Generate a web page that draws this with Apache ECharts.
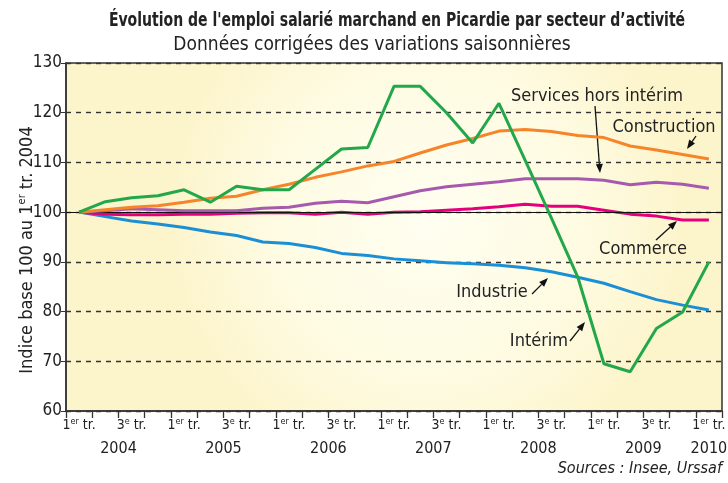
<!DOCTYPE html>
<html>
<head>
<meta charset="utf-8">
<script src="https://cdn.jsdelivr.net/npm/echarts@6/dist/echarts.min.js"></script>
<style>
  html, body { margin: 0; padding: 0; background: #fff; }
  #chart { width: 728px; height: 483px; }
</style>
</head>
<body>
<div id="chart"></div>
<script>
// trimestres 2004 T1 -> 2010 T1
var quarters = [];
for (var y = 2004; y <= 2010; y++) {
  for (var q = 1; q <= 4; q++) {
    if (y === 2010 && q > 1) break;
    quarters.push(y + '-T' + q);
  }
}
var years = ['2004', '2005', '2006', '2007', '2008', '2009', '2010'];
var yearPos = [2, 6, 10, 14, 18, 22, 24.5];   // position du libellé d'année sur l'axe (en trimestres)

var interim = [100, 102.1, 102.9, 103.3, 104.5, 102.0, 105.2, 104.5, 104.5, 108.6, 112.7, 113.0,
  125.3, 125.3, 120.0, 113.9, 121.9, 110.4, 98.8, 87.0, 69.5, 67.9, 76.6, 79.9, 90.0];
var construction = [100, 100.5, 101.0, 101.3, 102.0, 102.8, 103.2, 104.5, 105.6, 107.0, 108.1, 109.3,
  110.2, 111.9, 113.5, 114.8, 116.3, 116.6, 116.2, 115.4, 115.0, 113.3, 112.5, 111.6, 110.7];
var services = [100, 100.3, 100.7, 100.5, 100.3, 100.3, 100.3, 100.8, 101.0, 101.8, 102.2, 101.9,
  103.1, 104.3, 105.1, 105.6, 106.1, 106.7, 106.7, 106.7, 106.4, 105.5, 106.0, 105.6, 104.8];
var commerce = [100, 99.6, 99.5, 99.5, 99.6, 99.6, 99.8, 99.9, 99.9, 99.6, 100.0, 99.6,
  100.0, 100.1, 100.4, 100.7, 101.1, 101.6, 101.2, 101.2, 100.4, 99.6, 99.2, 98.4, 98.4];
var industrie = [100, 99.1, 98.2, 97.6, 96.9, 96.0, 95.3, 94.0, 93.7, 92.9, 91.7, 91.3,
  90.6, 90.2, 89.8, 89.6, 89.3, 88.8, 88.0, 86.9, 85.7, 84.0, 82.4, 81.3, 80.3];

var FONT = '"DejaVu Sans Condensed", "Liberation Sans", sans-serif';

var myChart = echarts.init(document.getElementById('chart'));

function arrow(x1, y1, x2, y2) {
  var a = Math.atan2(y2 - y1, x2 - x1);
  var L = 9, W = 3.5;
  var bx = x2 - L * Math.cos(a), by = y2 - L * Math.sin(a);
  return {
    type: 'group', z: 50,
    children: [
      { type: 'line', shape: { x1: x1, y1: y1, x2: bx, y2: by }, style: { stroke: '#111', lineWidth: 1.3 } },
      { type: 'polygon', shape: { points: [[x2, y2],
          [bx + W * Math.sin(a), by - W * Math.cos(a)],
          [bx - W * Math.sin(a), by + W * Math.cos(a)]] }, style: { fill: '#111' } }
    ]
  };
}
function label(txt, x, y) {
  return { type: 'text', x: x, y: y, z: 50,
    style: { text: txt, font: '18px ' + FONT, fill: '#222', align: 'center', verticalAlign: 'middle' } };
}

function lineSeries(name, data, color, z) {
  return {
    name: name, type: 'line', data: data, z: z,
    symbol: 'none', smooth: false,
    lineStyle: { color: color, width: 3 },
    itemStyle: { color: color }
  };
}

var supStyle = { fontSize: 9, fontFamily: FONT, padding: [0, 0, 8, 0], color: '#222' };

var option = {
  backgroundColor: '#fff',
  animation: false,
  grid: {
    left: 66, right: 6, top: 63, bottom: 72,
    containLabel: false,
    outerBoundsMode: 'none',
    show: true,
    borderColor: '#333', borderWidth: 1.5,
    backgroundColor: new echarts.graphic.RadialGradient(0.55, 0.45, 0.75, [
      { offset: 0, color: '#fffef0' },
      { offset: 0.6, color: '#fefbe2' },
      { offset: 1, color: '#fcf4ca' }
    ])
  },
  xAxis: [
    {
      type: 'category',
      data: quarters,
      boundaryGap: true,
      axisLine: { lineStyle: { color: '#333', width: 1.5 } },
      axisTick: { show: true, length: 7, interval: 0, lineStyle: { color: '#333', width: 1.3 } },
      axisLabel: {
        interval: 0, margin: 6,
        fontFamily: FONT, fontSize: 14, color: '#222',
        formatter: function (v, i) {
          if (i % 4 === 0) return '1{s|er} tr.';
          if (i % 4 === 2) return '3{s|e} tr.';
          return '';
        },
        rich: { s: supStyle }
      }
    },
    {
      type: 'value',
      min: 0, max: 25, interval: 0.5,
      position: 'bottom',
      axisLine: { show: false }, axisTick: { show: false }, splitLine: { show: false },
      axisLabel: {
        margin: 30, fontFamily: FONT, fontSize: 16, color: '#222',
        formatter: function (v) {
          var k = yearPos.indexOf(v);
          return k >= 0 ? years[k] : '';
        }
      }
    }
  ],
  yAxis: {
    type: 'value',
    min: 60, max: 130, interval: 10,
    name: 'Indice base 100 au 1{s|er} tr. 2004',
    nameLocation: 'middle',
    nameGap: 29,
    nameMoveOverlap: false,
    nameTextStyle: { fontFamily: FONT, fontSize: 18, color: '#222', padding: [0, 26, 0, 0],
      rich: { s: { fontSize: 11, fontFamily: FONT, padding: [0, 0, 9, 0], color: '#222' } } },
    axisLine: { show: true, lineStyle: { color: '#333', width: 1.5 } },
    axisTick: { show: true, length: 5, lineStyle: { color: '#333' } },
    axisLabel: { margin: 4, fontFamily: FONT, fontSize: 17, color: '#222' },
    splitLine: { show: true, lineStyle: { color: '#333', type: [5, 5], width: 1.4 } }
  },
  series: [
    {
      name: 'base', type: 'line', data: [], z: 1,
      markLine: {
        silent: true, symbol: 'none',
        label: { show: false },
        lineStyle: { color: '#111', type: 'solid', width: 1.2 },
        data: [{ yAxis: 100 }]
      }
    },
    lineSeries('Industrie', industrie, '#1a8fd6', 3),
    lineSeries('Commerce', commerce, '#e4007d', 4),
    lineSeries('Services hors intérim', services, '#a65aae', 5),
    lineSeries('Construction', construction, '#f6852a', 6),
    lineSeries('Intérim', interim, '#22a84a', 7)
  ],
  graphic: [
    { type: 'text', x: 397, y: 21, scaleX: 0.82, z: 50,
      style: { text: 'Évolution de l\'emploi salarié marchand en Picardie par secteur d’activité',
        font: 'bold 19px ' + FONT, fill: '#222', align: 'center', verticalAlign: 'middle' } },
    { type: 'text', x: 372, y: 45, z: 50,
      style: { text: 'Données corrigées des variations saisonnières',
        font: '19px ' + FONT, fill: '#222', align: 'center', verticalAlign: 'middle' } },
    label('Services hors intérim', 597, 96),
    label('Construction', 664, 127),
    label('Commerce', 643, 249),
    label('Industrie', 492, 292),
    label('Intérim', 539, 341),
    arrow(595, 106, 600, 173),
    arrow(696, 136, 687, 149),
    arrow(656, 240, 677, 221),
    arrow(532, 294, 548, 278),
    arrow(570, 341, 585, 322),
    { type: 'text', right: 6, top: 461, z: 50,
      style: { text: 'Sources : Insee, Urssaf', font: 'italic 16px ' + FONT, fill: '#222' } }
  ]
};

myChart.setOption(option);
window.addEventListener('resize', function () { myChart.resize(); });
</script>
</body>
</html>
